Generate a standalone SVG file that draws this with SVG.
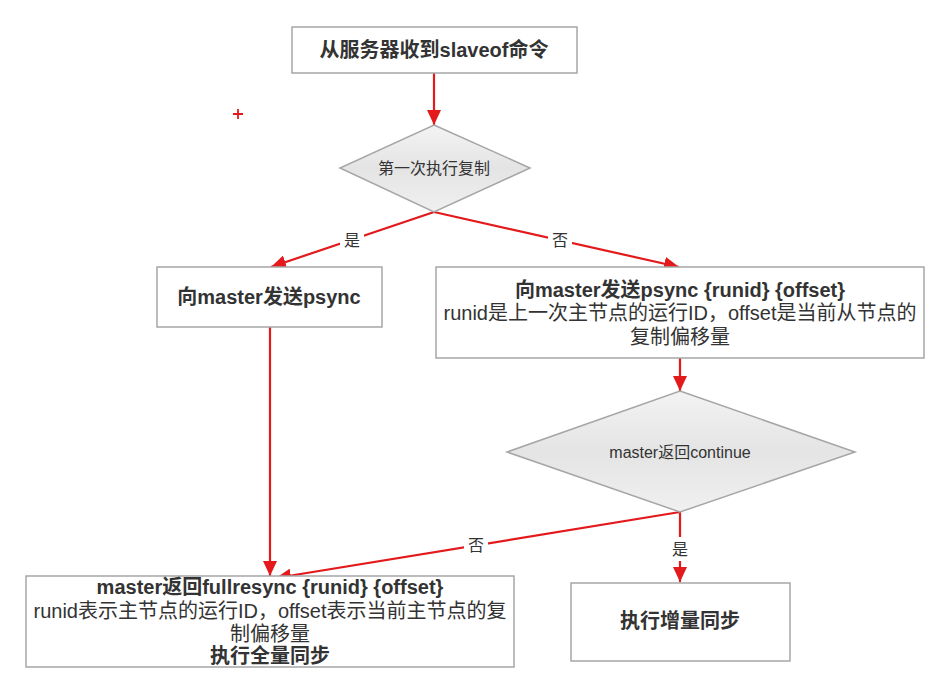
<svg xmlns="http://www.w3.org/2000/svg" width="950" height="699" viewBox="0 0 950 699">
<style>
.box{fill:#fff;stroke:#a6a6a6;stroke-width:1.5}
.dia{fill:url(#g);stroke:#a6a6a6;stroke-width:1.5}
.t{font-family:"Liberation Sans","Noto Sans CJK SC",sans-serif;fill:#333;text-anchor:middle}
.b{font-size:20px;font-weight:bold}
.r{font-size:20px}
.s{font-size:16px}
.c{stroke:#e3191b;stroke-width:2.2;fill:none}
.lb{fill:#fff}
</style>
<defs>
<linearGradient id="g" x1="0" y1="0" x2="0" y2="1">
<stop offset="0" stop-color="#f3f3f3"/>
<stop offset="0.5" stop-color="#e4e4e4"/>
<stop offset="1" stop-color="#f0f0f0"/>
</linearGradient>
<marker id="a" markerUnits="userSpaceOnUse" markerWidth="16" markerHeight="14" refX="15" refY="7" orient="auto">
<path d="M0,0 L15,7 L0,14 Z" fill="#e3191b"/>
</marker>
</defs>
<g id="plus"><path d="M233,114 H243 M238,109 V119" stroke="#e3191b" stroke-width="1.8"/></g>
<g id="connectors">
<path class="c" d="M434,73 V125" marker-end="url(#a)"/>
<path class="c" d="M434,212 L271,267" marker-end="url(#a)"/>
<path class="c" d="M434,212 L679,267" marker-end="url(#a)"/>
<path class="c" d="M680,358 V391" marker-end="url(#a)"/>
<path class="c" d="M270,327 V576" marker-end="url(#a)"/>
<path class="c" d="M680,512 L276,578" marker-end="url(#a)"/>
<path class="c" d="M680,512 V582" marker-end="url(#a)"/>
<rect class="lb" x="340" y="229" width="24" height="22"/>
<text class="t s" x="352" y="246">是</text>
<rect class="lb" x="548" y="229" width="24" height="22"/>
<text class="t s" x="560" y="246">否</text>
<rect class="lb" x="464" y="534" width="24" height="22"/>
<text class="t s" x="476" y="551">否</text>
<rect class="lb" x="668" y="537" width="24" height="24"/>
<text class="t s" x="680" y="555">是</text>
</g>
<g id="n1">
<rect class="box" x="292" y="27" width="285" height="46"/>
<text class="t b" x="434" y="57">从服务器收到slaveof命令</text>
</g>
<g id="d1">
<polygon class="dia" points="434,125 530,168 434,212 340,168"/>
<text class="t s" x="434" y="174">第一次执行复制</text>
</g>
<g id="n2">
<rect class="box" x="157" y="267" width="225" height="60"/>
<text class="t b" x="269" y="304">向master发送psync</text>
</g>
<g id="n3">
<rect class="box" x="436" y="267" width="488" height="91"/>
<text class="t b" x="680" y="297">向master发送psync {runid} {offset}</text>
<text class="t r" x="680" y="320">runid是上一次主节点的运行ID，offset是当前从节点的</text>
<text class="t r" x="680" y="344">复制偏移量</text>
</g>
<g id="d2">
<polygon class="dia" points="680,391 855,452 680,512 507,452"/>
<text class="t s" x="680" y="458">master返回continue</text>
</g>
<g id="n4">
<rect class="box" x="26" y="576" width="488" height="91"/>
<text class="t b" x="270" y="594">master返回fullresync {runid} {offset}</text>
<text class="t r" x="270" y="618">runid表示主节点的运行ID，offset表示当前主节点的复</text>
<text class="t r" x="270" y="641">制偏移量</text>
<text class="t b" x="270" y="663">执行全量同步</text>
</g>
<g id="n5">
<rect class="box" x="571" y="583" width="219" height="78"/>
<text class="t b" x="680" y="628">执行增量同步</text>
</g>
</svg>
